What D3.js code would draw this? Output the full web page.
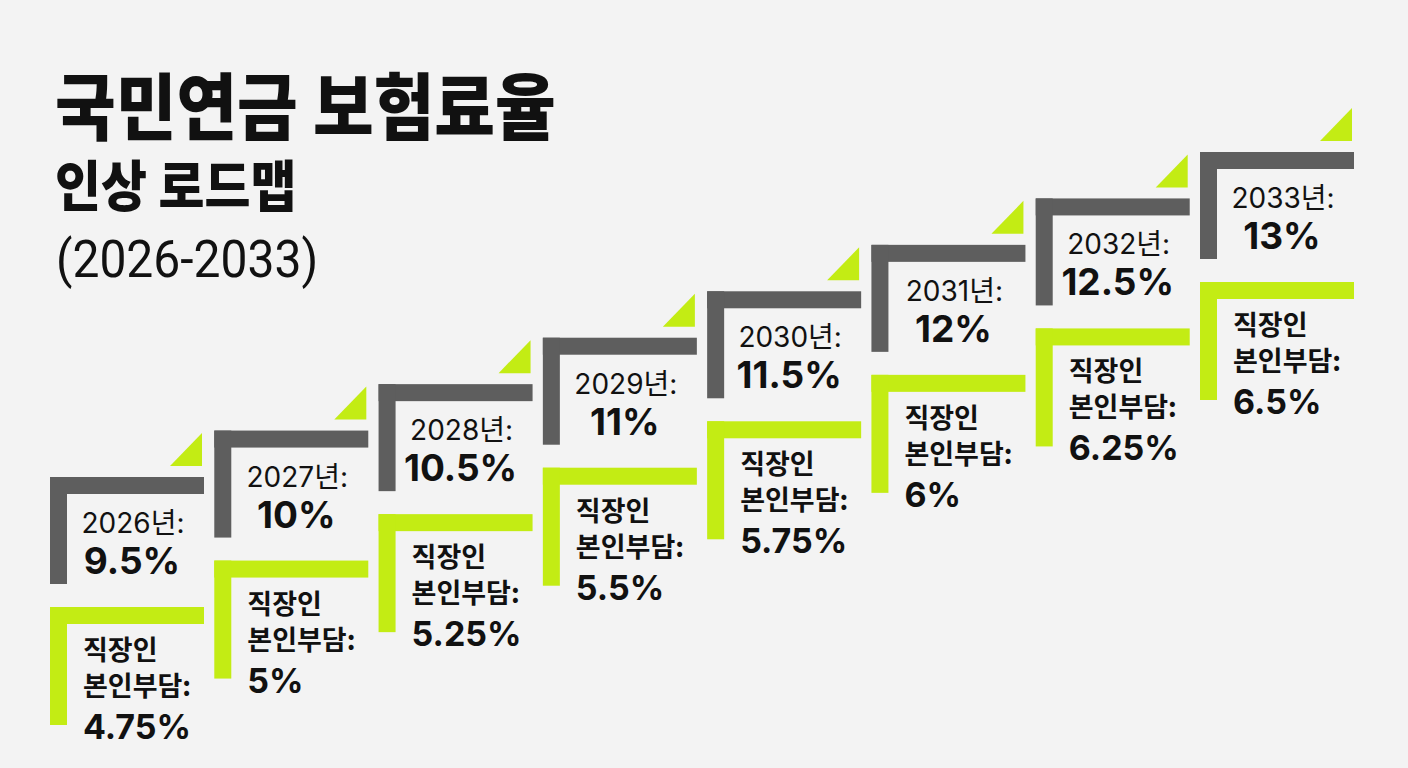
<!DOCTYPE html>
<html>
<head>
<meta charset="utf-8">
<script src="https://cdn.jsdelivr.net/npm/d3@7"></script>
<style>
  html, body { margin: 0; padding: 0; background: #f3f3f3; }
  svg { display: block; }
</style>
</head>
<body>
<div class="container"></div>
<script>
const years = [2026, 2027, 2028, 2029, 2030, 2031, 2032, 2033]
const totalRates = [9.5, 10, 10.5, 11, 11.5, 12, 12.5, 13]
const employeeShares = [4.75, 5, 5.25, 5.5, 5.75, 6, 6.25, 6.5]
const titleLines = ["국민연금 보험료율", "인상 로드맵", "(2026-2033)"]

const onLoad = () => {
    const w = 1408
    const h = 768
    const gray = "#5e5e5e"
    const lime = "#c3ec14"
    const stepW = 154
    const thick = 17
    const numFont = "Inter, 'Noto Sans CJK KR', sans-serif"
    const korFont = "'Noto Sans CJK KR', sans-serif"

    const svg = d3.select(".container")
    .append("svg")
    .attr("width", w)
    .attr("height", h)

    svg.append("rect")
    .attr("width", w)
    .attr("height", h)
    .attr("fill", "#f3f3f3")

    // title block: two bold lines in one text, then the years
    const title = svg.append("text")
    .attr("transform", "translate(55,134) scale(1,1.1)")
    .attr("font-family", korFont)
    .attr("font-weight", 900)
    .attr("fill", "#111")

    title.append("tspan")
    .attr("x", 0)
    .attr("y", 0)
    .attr("font-size", 66)
    .text(titleLines[0])

    title.append("tspan")
    .attr("x", 0)
    .attr("y", 72 / 1.1)
    .attr("font-size", 50)
    .text(titleLines[1])

    svg.append("text")
    .attr("transform", "translate(56,277) scale(1,1.08)")
    .attr("font-family", "Roboto, sans-serif")
    .attr("font-size", 48)
    .attr("fill", "#111")
    .text(titleLines[2])

    const data = years.map((y, i) => ({year: y, total: totalRates[i], employee: employeeShares[i]}))

    const x = d3.scaleLinear().domain([2026, 2033]).range([50, 1200])
    const y = d3.scaleLinear().domain([9.5, 13]).range([477, 152])
    const greenOffset = 130

    const step = svg.selectAll("g.step")
    .data(data)
    .enter()
    .append("g")
    .attr("class", "step")
    .attr("transform", d => `translate(${x(d.year)},${y(d.total)})`)

    // small lime triangle above the gray bar
    step.append("path")
    .attr("d", `M${stepW - 2},-44 L${stepW - 2},-11 L${stepW - 34},-11 Z`)
    .attr("fill", lime)

    // gray bracket
    step.append("rect")
    .attr("width", stepW)
    .attr("height", thick)
    .attr("fill", gray)
    step.append("rect")
    .attr("width", thick)
    .attr("height", 107)
    .attr("fill", gray)

    step.append("text")
    .attr("x", 83)
    .attr("y", 56)
    .attr("text-anchor", "middle")
    .attr("font-family", numFont)
    .attr("font-size", 28)
    .attr("fill", "#111")
    .text(d => d.year + "년:")

    step.append("text")
    .attr("x", 82)
    .attr("y", 97)
    .attr("text-anchor", "middle")
    .attr("font-family", numFont)
    .attr("font-weight", 700)
    .attr("font-size", 37)
    .attr("fill", "#111")
    .text(d => d.total + "%")

    // lime bracket with employee share
    const share = step.append("g")
    .attr("transform", `translate(0,${greenOffset})`)

    share.append("rect")
    .attr("width", stepW)
    .attr("height", thick)
    .attr("fill", lime)
    share.append("rect")
    .attr("width", thick)
    .attr("height", 118)
    .attr("fill", lime)

    share.append("text")
    .attr("x", 33)
    .attr("y", 53)
    .attr("font-family", korFont)
    .attr("font-weight", 700)
    .attr("font-size", 27)
    .attr("fill", "#111")
    .text("직장인")

    share.append("text")
    .attr("x", 33)
    .attr("y", 89)
    .attr("font-family", korFont)
    .attr("font-weight", 700)
    .attr("font-size", 27)
    .attr("fill", "#111")
    .text("본인부담:")

    share.append("text")
    .attr("x", 33)
    .attr("y", 132)
    .attr("font-family", numFont)
    .attr("font-weight", 700)
    .attr("font-size", 34)
    .attr("fill", "#111")
    .text(d => d.employee + "%")
}
document.addEventListener("DOMContentLoaded", onLoad)
</script>
</body>
</html>
